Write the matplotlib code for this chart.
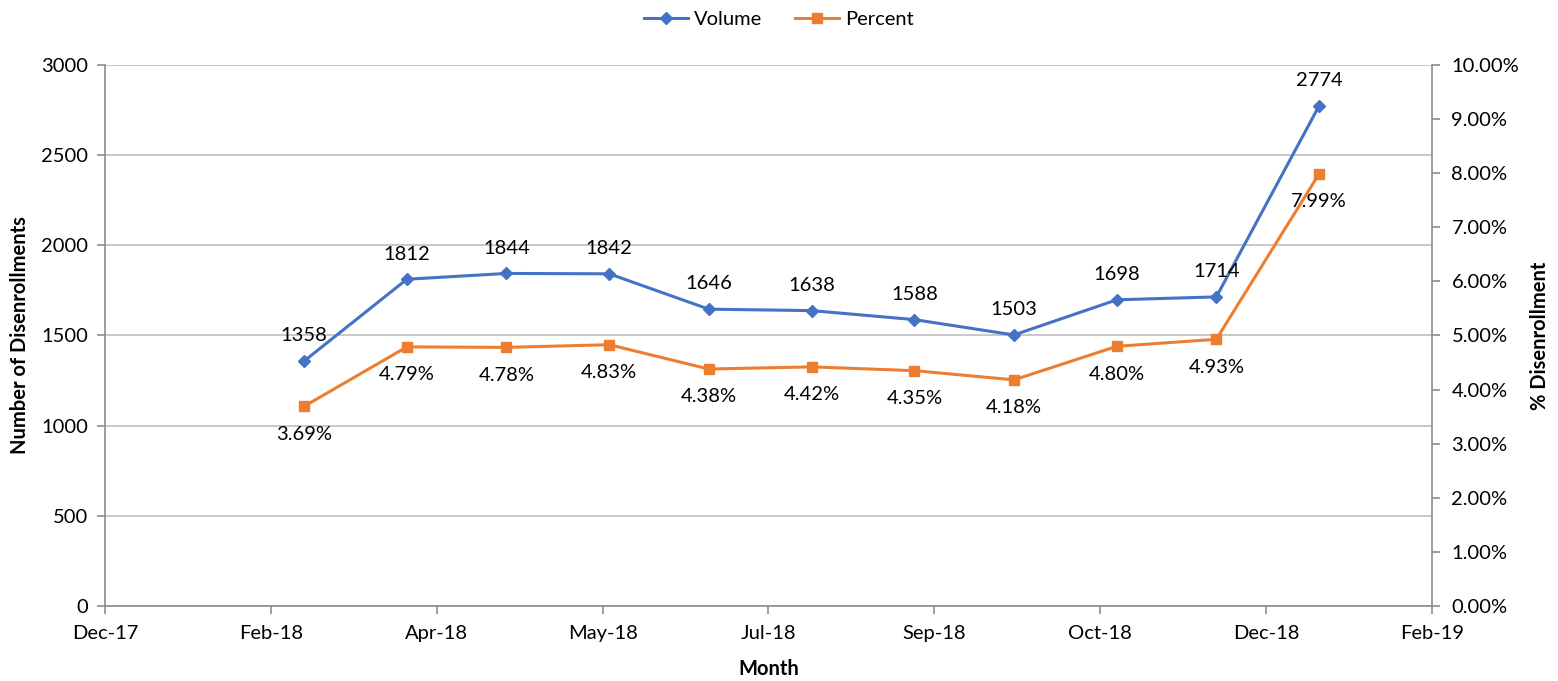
import datetime as dt
import matplotlib
matplotlib.use('Agg')
import matplotlib.pyplot as plt
import matplotlib.dates as mdates
from matplotlib.ticker import FixedLocator, FuncFormatter

plt.rcParams['font.family'] = ['Lato', 'DejaVu Sans']

# data (first of month, Mar-18 .. Jan-19)
months = [dt.date(2018, m, 1) for m in range(3, 13)] + [dt.date(2019, 1, 1)]
volume = [1358, 1812, 1844, 1842, 1646, 1638, 1588, 1503, 1698, 1714, 2774]
percent = [3.69, 4.79, 4.78, 4.83, 4.38, 4.42, 4.35, 4.18, 4.80, 4.93, 7.99]

blue = '#4472C4'
orange = '#ED7D31'
axcol = '#8C8C8C'
gridcol = '#BFBFBF'
fs = 14.5

fig = plt.figure(figsize=(15.58, 6.81), dpi=100)
ax = fig.add_axes([0.0674, 0.1101, 0.8517, 0.7945])
ax2 = ax.twinx()

xs = mdates.date2num(months)
start = mdates.date2num(dt.date(2017, 12, 31))
ticks = [start + 50 * k for k in range(9)]

l1, = ax.plot(xs, volume, color=blue, lw=2.2, marker='D', ms=6, label='Volume')
l2, = ax2.plot(xs, percent, color=orange, lw=2.2, marker='s', ms=7.5, label='Percent')

for x, v in zip(xs, volume):
    ax.annotate(str(v), (x, v), xytext=(0, 12), textcoords='offset points',
                ha='center', va='bottom', fontsize=fs)
for x, p in zip(xs, percent):
    ax2.annotate('%.2f%%' % p, (x, p), xytext=(0, -14), textcoords='offset points',
                 ha='center', va='top', fontsize=fs)

ax.set_xlim(ticks[0], ticks[-1])
ax.xaxis.set_major_locator(FixedLocator(ticks))
ax.xaxis.set_major_formatter(mdates.DateFormatter('%b-%y'))

ax.set_ylim(0, 3000)
ax.set_yticks(range(0, 3001, 500))
ax2.set_ylim(0, 10)
ax2.set_yticks(range(0, 11))
ax2.yaxis.set_major_formatter(FuncFormatter(lambda v, p: '%.2f%%' % v))

ax.grid(axis='y', color=gridcol, lw=1.2)
ax.set_axisbelow(True)

for a in (ax, ax2):
    a.spines['top'].set_visible(False)
    for s in ('left', 'right', 'bottom'):
        a.spines[s].set_color(axcol)
        a.spines[s].set_linewidth(1.2)
    a.tick_params(colors=axcol, labelcolor='black', labelsize=fs, length=6, width=1.2)
ax.spines['right'].set_visible(False)
ax2.spines['left'].set_visible(False)
ax2.spines['bottom'].set_visible(False)
ax.tick_params(axis='x', pad=8)
ax.tick_params(axis='y', pad=6)
ax2.tick_params(axis='y', pad=8)

ax.set_ylabel('Number of Disenrollments', fontsize=fs, fontweight='bold', labelpad=8)
ax2.set_ylabel('% Disenrollment', fontsize=fs, fontweight='bold', labelpad=8, rotation=90)
ax.set_xlabel('Month', fontsize=fs, fontweight='bold', labelpad=12)

fig.legend(handles=[l1, l2], loc='upper center', bbox_to_anchor=(0.5, 1.01), ncol=2,
           frameon=False, fontsize=fs, handlelength=2.2, handletextpad=0.3,
           columnspacing=1.6)

fig.savefig('out.png', dpi=100)
